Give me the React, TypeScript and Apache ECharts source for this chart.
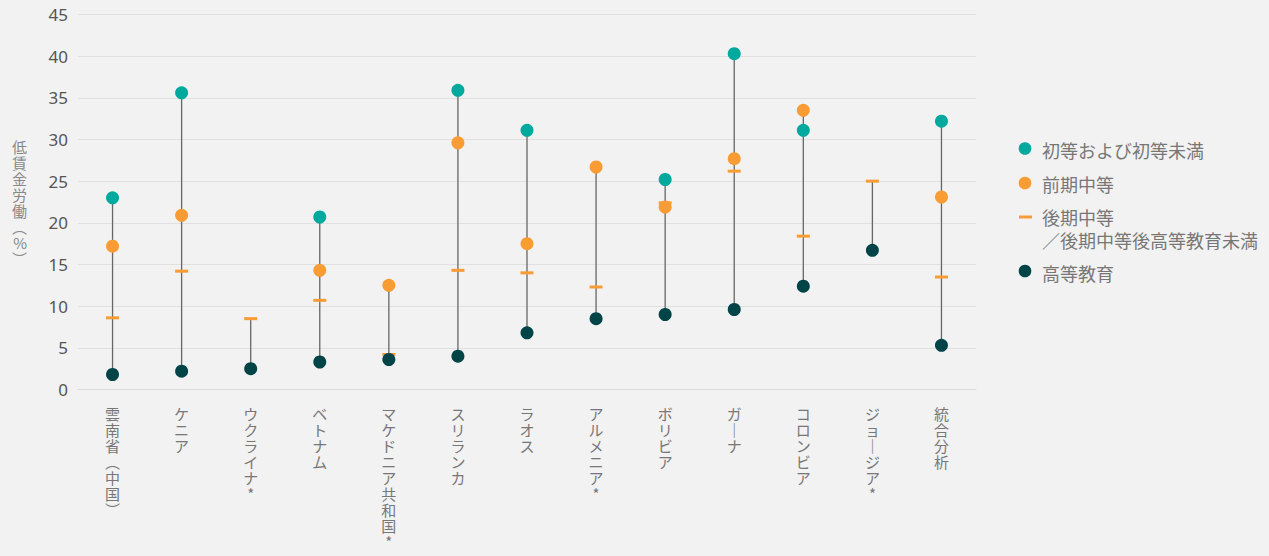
import React, { useEffect, useRef } from "react";
import * as echarts from "echarts";

const categories = [
  "雲南省（中国）",
  "ケニア",
  "ウクライナ＊",
  "ベトナム",
  "マケドニア共和国＊",
  "スリランカ",
  "ラオス",
  "アルメニア＊",
  "ボリビア",
  "ガーナ",
  "コロンビア",
  "ジョージア＊",
  "統合分析",
];
const seriesNames = [
  "初等および初等未満",
  "前期中等",
  "後期中等／後期中等後高等教育未満",
  "高等教育",
];
const primary = [23.0, 35.6, null, 20.7, null, 35.9, 31.1, null, 25.2, 40.3, 31.1, null, 32.2];
const lowerSecondary = [17.2, 20.9, null, 14.3, 12.5, 29.6, 17.5, 26.7, 21.9, 27.7, 33.5, null, 23.1];
const upperSecondary = [8.6, 14.2, 8.5, 10.7, 4.2, 14.3, 14.0, 12.3, 22.4, 26.2, 18.4, 25.0, 13.5];
const tertiary = [1.8, 2.2, 2.5, 3.3, 3.6, 4.0, 6.8, 8.5, 9.0, 9.6, 12.4, 16.7, 5.3];
const yTicks = { min: 0, max: 45, interval: 5 };
const yAxisName = "低賃金労働（%）";

const TEAL = "#00a99d";
const ORANGE = "#f89c33";
const DARK = "#004448";
const JP = "'Noto Sans CJK JP', 'Noto Sans', sans-serif";

const toVertical = (s: string) =>
  s
    .replace(/（/g, "︵")
    .replace(/）/g, "︶")
    .replace(/ー/g, "｜")
    .replace(/＊/g, "*")
    .split("")
    .join("\n");

export default function App() {
  const ref = useRef<HTMLDivElement>(null);
  useEffect(() => {
    if (!ref.current) return;
    const chart = echarts.init(ref.current, null, { renderer: "svg" });
    const ranges = categories.map((_, i) => {
      const vals = [primary[i], lowerSecondary[i], upperSecondary[i], tertiary[i]].filter(
        (v) => v != null
      ) as number[];
      return [i, Math.min(...vals), Math.max(...vals)];
    });
    const lx = 1025;
    const tx = 1042;
    const legendText = (x: number, y: number, t: string) => ({
      type: "text",
      x,
      y,
      style: { text: t, fill: "#777", font: `18px ${JP}`, verticalAlign: "middle", align: "left" },
    });
    chart.setOption({
      animation: false,
      backgroundColor: "#f2f2f2",
      grid: { left: 78, top: 14.5, width: 898, height: 375, containLabel: false },
      xAxis: {
        type: "category",
        data: categories,
        axisLine: { show: true, lineStyle: { color: "#dcdcdc", width: 1 } },
        axisTick: { show: false },
        axisLabel: {
          interval: 0,
          margin: 16,
          color: "#777",
          fontFamily: JP,
          fontSize: 15,
          lineHeight: 16,
          verticalAlign: "top",
          formatter: (v: string) => toVertical(v),
        },
        splitLine: { show: false },
      },
      yAxis: {
        type: "value",
        min: yTicks.min,
        max: yTicks.max,
        interval: yTicks.interval,
        name: toVertical(yAxisName),
        nameLocation: "middle",
        nameRotate: 0,
        nameGap: 51,
        nameTextStyle: { color: "#888", fontFamily: JP, fontSize: 15, lineHeight: 16 },
        axisLine: { show: false },
        axisTick: { show: false },
        axisLabel: { color: "#555", fontFamily: "'Noto Sans', sans-serif", fontSize: 17, margin: 10 },
        splitLine: { lineStyle: { color: "#e0e0e0", width: 1 } },
      },
      series: [
        {
          type: "custom",
          name: "range",
          z: 1,
          silent: true,
          data: ranges,
          encode: { x: 0, y: [1, 2] },
          renderItem: (params: any, api: any) => {
            const a = api.coord([api.value(0), api.value(1)]);
            const b = api.coord([api.value(0), api.value(2)]);
            return {
              type: "line",
              shape: { x1: a[0], y1: a[1], x2: b[0], y2: b[1] },
              style: { stroke: "#666", lineWidth: 1.3 },
            };
          },
        },
        {
          type: "scatter",
          name: seriesNames[2],
          z: 2,
          symbol: "rect",
          symbolSize: [13, 3],
          itemStyle: { color: ORANGE, opacity: 1 },
          data: upperSecondary,
        },
        {
          type: "scatter",
          name: seriesNames[0],
          z: 3,
          symbol: "circle",
          symbolSize: 13,
          itemStyle: { color: TEAL, opacity: 1 },
          data: primary,
        },
        {
          type: "scatter",
          name: seriesNames[1],
          z: 3,
          symbol: "circle",
          symbolSize: 13,
          itemStyle: { color: ORANGE, opacity: 1 },
          data: lowerSecondary,
        },
        {
          type: "scatter",
          name: seriesNames[3],
          z: 4,
          symbol: "circle",
          symbolSize: 13,
          itemStyle: { color: DARK, opacity: 1 },
          data: tertiary,
        },
      ],
      graphic: [
        { type: "circle", shape: { cx: lx, cy: 148.5, r: 6.3 }, style: { fill: TEAL } },
        legendText(tx, 150, seriesNames[0]),
        { type: "circle", shape: { cx: lx, cy: 183, r: 6.3 }, style: { fill: ORANGE } },
        legendText(tx, 184, seriesNames[1]),
        { type: "rect", shape: { x: 1019, y: 215.5, width: 13, height: 3 }, style: { fill: ORANGE } },
        legendText(tx, 217, "後期中等"),
        legendText(tx, 240, "／後期中等後高等教育未満"),
        { type: "circle", shape: { cx: lx, cy: 271, r: 6.3 }, style: { fill: DARK } },
        legendText(tx, 273, seriesNames[3]),
      ],
    });
    return () => chart.dispose();
  }, []);
  return (
    <div
      ref={ref}
      style={{ position: "fixed", left: 0, top: 0, width: 1269, height: 556 }}
    />
  );
}
